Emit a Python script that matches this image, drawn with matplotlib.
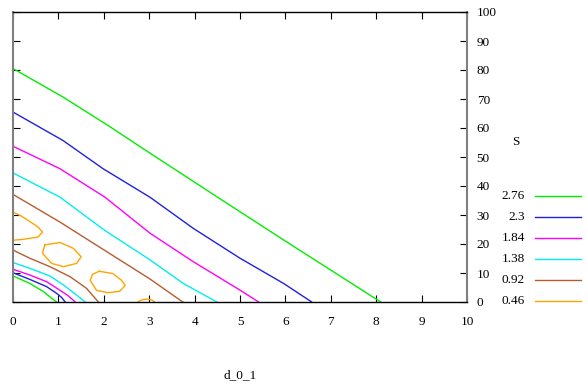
#!/usr/bin/env python3
"""
Contour map d_0_1 vs S - redrawn from a gnuplot view-map picture
"""

import matplotlib
matplotlib.use('Agg')
import matplotlib.pyplot as plt
from matplotlib.lines import Line2D

# contour levels and colours (top of legend first)
levels = ['2.76', '2.3', '1.84', '1.38', '0.92', '0.46']
colors = ['#00ee00', '#2020e0', '#ff00ff', '#00eeee', '#b85c30', '#ffa500']

# level 2.76
green_x = [0.0, 1.1, 2.09, 3.02, 4.49, 5.96, 8.1]
green_y = [80.5, 70.7, 60.9, 51.3, 36.3, 21.4, 0.0]
green_low_x = [0.0, 0.37, 0.67, 0.85, 0.96]
green_low_y = [9.0, 6.4, 3.6, 1.3, 0.0]

# level 2.3
blue_x = [0.0, 1.1, 1.98, 3.02, 3.97, 5.0, 5.96, 6.58]
blue_y = [65.5, 55.7, 46.0, 36.1, 25.4, 15.1, 6.4, 0.0]
blue_low_x = [0.0, 0.37, 0.74, 0.96, 1.07, 1.15]
blue_low_y = [10.1, 7.8, 5.3, 3.0, 1.6, 0.0]

# level 1.84
magenta_x = [0.0, 1.03, 2.02, 3.02, 3.97, 5.0, 5.41]
magenta_y = [53.7, 46.0, 36.2, 23.7, 13.9, 4.1, 0.0]
magenta_low_x = [0.0, 0.37, 0.74, 1.0, 1.22, 1.37]
magenta_low_y = [11.3, 9.3, 7.0, 4.4, 2.1, 0.0]

# level 1.38
cyan_x = [0.0, 1.03, 2.02, 3.02, 3.75, 4.49]
cyan_y = [44.5, 36.2, 24.7, 14.5, 6.4, 0.0]
cyan_low_x = [0.0, 0.37, 0.81, 1.11, 1.40, 1.59]
cyan_low_y = [13.6, 11.6, 9.0, 5.9, 2.4, 0.0]

# level 0.92
brown_x = [0.0, 1.03, 2.02, 3.01, 3.74]
brown_y = [37.1, 27.6, 17.8, 8.0, 0.0]
brown_low_x = [0.0, 0.37, 0.81, 1.26, 1.62, 1.88]
brown_low_y = [17.9, 15.1, 12.2, 8.7, 4.7, 0.0]

# level 0.46 (small closed loops)
orange1_x = [0.0, 0.2, 0.55, 0.65, 0.55, 0.22, 0.0]
orange1_y = [31.0, 29.5, 25.9, 24.1, 22.4, 21.6, 21.3]
orange2_x = [0.70, 1.04, 1.33, 1.50, 1.40, 1.11, 0.85, 0.65, 0.70]
orange2_y = [19.7, 20.5, 18.5, 15.6, 13.3, 12.2, 13.3, 16.8, 19.7]
orange3_x = [1.90, 2.2, 2.39, 2.47, 2.35, 2.09, 1.84, 1.70, 1.75, 1.90]
orange3_y = [10.6, 9.8, 7.5, 5.7, 3.7, 3.2, 4.0, 7.5, 9.5, 10.6]
orange4_x = [2.75, 2.85, 2.95, 3.05, 3.12]
orange4_y = [0.0, 0.8, 1.0, 0.8, 0.0]

xticks = list(range(0, 11))
yticks = list(range(0, 101, 10))

W, H = 588, 384
fs = 9.5
plt.rcParams['font.family'] = ['Liberation Serif', 'DejaVu Serif']

fig = plt.figure(figsize=(W / 100, H / 100), dpi=100)
ax = fig.add_axes([13 / W, 1 - 302 / H, 454 / W, 290 / H])

curves = [
    (green_x, green_y, 0), (green_low_x, green_low_y, 0),
    (blue_x, blue_y, 1), (blue_low_x, blue_low_y, 1),
    (magenta_x, magenta_y, 2), (magenta_low_x, magenta_low_y, 2),
    (cyan_x, cyan_y, 3), (cyan_low_x, cyan_low_y, 3),
    (brown_x, brown_y, 4), (brown_low_x, brown_low_y, 4),
    (orange1_x, orange1_y, 5), (orange2_x, orange2_y, 5),
    (orange3_x, orange3_y, 5), (orange4_x, orange4_y, 5),
]
for xs, ys, ci in curves:
    ax.plot(xs, ys, color=colors[ci], lw=1.0)

ax.set_xlim(0, 10)
ax.set_ylim(0, 100)
ax.set_xticks(xticks)
ax.set_yticks(yticks)
ax.tick_params(direction='in', length=5, width=0.8, top=True, right=True,
               left=True, bottom=True, labelleft=False, labelright=True,
               labelsize=fs, colors='black')
ax.tick_params(axis='x', pad=10)
ax.tick_params(axis='y', pad=7)
for s in ['left', 'right']:
    ax.spines[s].set_color('#808080')
    ax.spines[s].set_linewidth(1.5)
for s in ['top', 'bottom']:
    ax.spines[s].set_linewidth(1.0)

fig.text(240 / W, 1 - 375 / H, 'd_0_1', ha='center', va='center', fontsize=fs)
fig.text(516 / W, 1 - 142 / H, 'S', ha='center', va='center', fontsize=fs)

# key: label on the left, sample line on the right
key_y = [196, 217, 238, 259, 280, 301]
for lab, col, yy in zip(levels, colors, key_y):
    fig.text(525 / W, 1 - yy / H, lab, ha='right', va='center', fontsize=fs)
    fig.add_artist(Line2D([535 / W, 581 / W], [1 - yy / H, 1 - yy / H],
                          color=col, lw=1.0, transform=fig.transFigure))

plt.savefig('out.png', dpi=100)
